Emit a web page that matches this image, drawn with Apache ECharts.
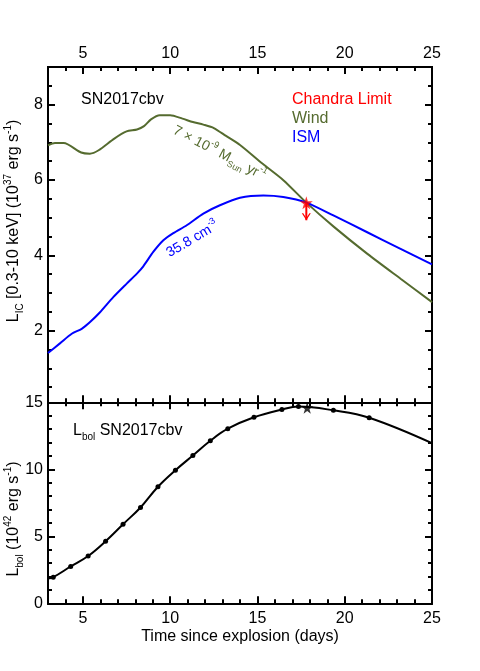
<!DOCTYPE html>
<html>
<head>
<meta charset="utf-8">
<script src="https://cdn.jsdelivr.net/npm/echarts@6/dist/echarts.min.js"></script>
<style>
  html, body { margin: 0; padding: 0; background: #fff; }
  #chart { width: 480px; height: 671px; }
</style>
</head>
<body>
<div id="chart"></div>
<script>
// 上图：逆康普顿 X 射线光度 (10^37 erg/s)
const windDays = [3.0, 3.4, 3.9, 4.9, 5.4, 5.9, 6.8, 7.5, 8.1, 8.5, 8.9, 9.4, 10.0, 10.7, 11.3, 11.9, 12.5, 13.2, 14.0, 15.3, 16.5, 17.8, 19.4, 21.3, 23.2, 25.0]
const windLum = [6.92, 6.98, 6.98, 6.73, 6.70, 6.79, 7.10, 7.29, 7.34, 7.43, 7.61, 7.72, 7.72, 7.63, 7.54, 7.47, 7.38, 7.17, 6.93, 6.43, 5.99, 5.40, 4.75, 4.04, 3.38, 2.76]
const ismDays = [3.0, 3.7, 4.36, 4.93, 5.41, 5.98, 6.74, 7.51, 8.08, 8.46, 9.03, 9.61, 10.18, 10.95, 11.9, 12.85, 14.0, 15.34, 16.48, 17.8, 19.35, 21.26, 23.17, 25.0]
const ismLum = [1.41, 1.67, 1.92, 2.05, 2.23, 2.49, 2.89, 3.25, 3.51, 3.71, 4.09, 4.40, 4.59, 4.80, 5.11, 5.33, 5.53, 5.59, 5.55, 5.40, 5.06, 4.62, 4.18, 3.76]
const chandraDay = 17.8
const chandraLimit = 5.40
const chandraArrowTip = 4.93

// 下图：热光度 (10^42 erg/s)
const lbolDays = [3.3, 4.3, 5.3, 6.3, 7.3, 8.3, 9.3, 10.3, 11.3, 12.3, 13.3, 14.8, 16.4, 17.35, 19.35, 21.4]
const lbolValues = [1.95, 2.75, 3.53, 4.63, 5.9, 7.15, 8.7, 9.93, 11.03, 12.13, 13.03, 13.88, 14.46, 14.68, 14.4, 13.85]
const lbolCurveStart = [3.0, 1.85]
const lbolCurveEnd = [25.0, 11.95]
const lbolPeak = [17.85, 14.6]

// 刻度
const dayTicks = [5, 10, 15, 20, 25]
const dayMinorTicks = [4, 6, 7, 8, 9, 11, 12, 13, 14, 16, 17, 18, 19, 21, 22, 23, 24]
const licTicks = [2, 4, 6, 8]
const licMinorTicks = [0.5, 1, 1.5, 2.5, 3, 3.5, 4.5, 5, 5.5, 6.5, 7, 7.5, 8.5]
const lbolTicks = [0, 5, 10, 15]
const lbolMinorTicks = [1, 2, 3, 4, 6, 7, 8, 9, 11, 12, 13, 14]

const FONT = "'Liberation Sans', Arial, sans-serif"
const WIND_COLOR = "#556B2F"
const STAR = "path://M50,0 L61,35 L98,35 L68,57 L79,91 L50,70 L21,91 L32,57 L2,35 L39,35 Z"
const ARROW_HEAD = "path://M0,0 L5,7 L10,0 L8.4,0 L5,4.6 L1.6,0 Z"
const MAJOR_LEN = 7
const MINOR_LEN = 4

const chart = echarts.init(document.getElementById("chart"))

// 上下两个面板；次刻度画在与之重叠的 grid 上
const topPanel = { left: 48, width: 384, top: 67, height: 335.3 }
const bottomPanel = { left: 48, width: 384, top: 402.3, height: 201 }
const dayRange = [3, 25]
const licRange = [0.1, 9]
const lbolRange = [0, 15]

function axisDef(gridIndex, position, range, ticks, len, showLabels) {
  return {
    type: "value",
    gridIndex: gridIndex,
    position: position,
    min: range[0],
    max: range[1],
    axisLine: { show: true, onZero: false, lineStyle: { color: "#000", width: 2 } },
    axisTick: { show: true, inside: true, length: len, customValues: ticks, lineStyle: { color: "#000", width: 2 } },
    axisLabel: {
      show: showLabels,
      customValues: ticks,
      color: "#000",
      fontSize: 16,
      fontFamily: FONT,
      margin: position === "top" ? 5 : position === "bottom" ? 7 : 5
    },
    splitLine: { show: false }
  }
}

const xAxes = [
  axisDef(0, "bottom", dayRange, dayTicks, MAJOR_LEN, false),
  axisDef(0, "top", dayRange, dayTicks, MAJOR_LEN, true),
  axisDef(1, "bottom", dayRange, dayTicks, MAJOR_LEN, true),
  axisDef(1, "top", dayRange, dayTicks, MAJOR_LEN, false),
  axisDef(2, "bottom", dayRange, dayMinorTicks, MINOR_LEN, false),
  axisDef(2, "top", dayRange, dayMinorTicks, MINOR_LEN, false),
  axisDef(3, "bottom", dayRange, dayMinorTicks, MINOR_LEN, false),
  axisDef(3, "top", dayRange, dayMinorTicks, MINOR_LEN, false)
]
xAxes[2].name = "Time since explosion (days)"
xAxes[2].nameLocation = "middle"
xAxes[2].nameGap = 25
xAxes[2].nameTextStyle = { color: "#000", fontSize: 16, fontFamily: FONT }

const yAxes = [
  axisDef(0, "left", licRange, licTicks, MAJOR_LEN, true),
  axisDef(0, "right", licRange, licTicks, MAJOR_LEN, false),
  axisDef(1, "left", lbolRange, lbolTicks, MAJOR_LEN, true),
  axisDef(1, "right", lbolRange, lbolTicks, MAJOR_LEN, false),
  axisDef(2, "left", licRange, licMinorTicks, MINOR_LEN, false),
  axisDef(2, "right", licRange, licMinorTicks, MINOR_LEN, false),
  axisDef(3, "left", lbolRange, lbolMinorTicks, MINOR_LEN, false),
  axisDef(3, "right", lbolRange, lbolMinorTicks, MINOR_LEN, false)
]

function zip(xs, ys) {
  return xs.map((x, i) => [x, ys[i]])
}

const lbolData = [{ value: lbolCurveStart, symbol: "none" }]
  .concat(zip(lbolDays, lbolValues))
  .concat([{ value: lbolCurveEnd, symbol: "none" }])

// 文字样式（上下标）
const richMain = (size, color) => ({
  n: { fontSize: size, fontFamily: FONT, fill: color, lineHeight: size + 6, verticalAlign: "middle" },
  sup: { fontSize: Math.round(size * 0.62), fontFamily: FONT, fill: color, lineHeight: Math.round(size * 0.62), verticalAlign: "top" },
  sub: { fontSize: Math.round(size * 0.62), fontFamily: FONT, fill: color, lineHeight: Math.round(size * 0.62), verticalAlign: "bottom" }
})

const graphics = [
  { type: "text", x: 81, y: 99.5, style: { text: "SN2017cbv", fill: "#000", fontSize: 16, fontFamily: FONT, verticalAlign: "middle" } },
  { type: "text", x: 292, y: 99.5, style: { text: "Chandra Limit", fill: "#ff0000", fontSize: 16, fontFamily: FONT, verticalAlign: "middle" } },
  { type: "text", x: 292, y: 118.5, style: { text: "Wind", fill: WIND_COLOR, fontSize: 16, fontFamily: FONT, verticalAlign: "middle" } },
  { type: "text", x: 292, y: 137.5, style: { text: "ISM", fill: "#0000ff", fontSize: 16, fontFamily: FONT, verticalAlign: "middle" } },
  {
    type: "text", x: 73, y: 431,
    style: { text: "{n|L}{sub|bol}{n| SN2017cbv}", rich: richMain(16, "#000"), verticalAlign: "middle" }
  },
  {
    type: "text", x: 174, y: 129.5, rotation: -0.48,
    style: { text: "{n|7 × 10}{sup|-9}{n| M}{sub|Sun}{n| yr}{sup|-1}", rich: richMain(14, WIND_COLOR), verticalAlign: "middle" }
  },
  {
    type: "text", x: 167.5, y: 254, rotation: 0.53,
    style: { text: "{n|35.8 cm}{sup|-3}", rich: richMain(14, "#0000ff"), verticalAlign: "middle" }
  },
  {
    type: "text", x: 14, y: 221, rotation: Math.PI / 2,
    style: { text: "{n|L}{sub|IC}{n| [0.3-10 keV] (10}{sup|37}{n| erg s}{sup|-1}{n|)}", rich: richMain(16, "#000"), align: "center", verticalAlign: "middle" }
  },
  {
    type: "text", x: 14, y: 519, rotation: Math.PI / 2,
    style: { text: "{n|L}{sub|bol}{n| (10}{sup|42}{n| erg s}{sup|-1}{n|)}", rich: richMain(16, "#000"), align: "center", verticalAlign: "middle" }
  }
]

const option = {
  animation: false,
  grid: [topPanel, bottomPanel, topPanel, bottomPanel],
  xAxis: xAxes,
  yAxis: yAxes,
  graphic: graphics,
  series: [
    {
      name: "Wind",
      type: "line",
      xAxisIndex: 0,
      yAxisIndex: 0,
      data: zip(windDays, windLum),
      smooth: 0.25,
      showSymbol: false,
      lineStyle: { color: WIND_COLOR, width: 2 }
    },
    {
      name: "ISM",
      type: "line",
      xAxisIndex: 0,
      yAxisIndex: 0,
      data: zip(ismDays, ismLum),
      smooth: 0.25,
      showSymbol: false,
      lineStyle: { color: "#0000ff", width: 2 }
    },
    {
      name: "Chandra Limit",
      type: "line",
      xAxisIndex: 0,
      yAxisIndex: 0,
      data: [
        { value: [chandraDay, chandraLimit], symbol: "none" },
        { value: [chandraDay, chandraArrowTip], symbol: ARROW_HEAD, symbolSize: [9, 7], symbolOffset: [0, -3.5] }
      ],
      itemStyle: { color: "#ff0000" },
      lineStyle: { color: "#ff0000", width: 2 },
      z: 5
    },
    {
      name: "Chandra star",
      type: "scatter",
      xAxisIndex: 0,
      yAxisIndex: 0,
      data: [[chandraDay, chandraLimit]],
      symbol: STAR,
      symbolSize: 13,
      itemStyle: { color: "#ff0000" },
      z: 6
    },
    {
      name: "Lbol",
      type: "line",
      xAxisIndex: 2,
      yAxisIndex: 2,
      data: lbolData,
      smooth: 0.4,
      symbol: "circle",
      symbolSize: 5,
      itemStyle: { color: "#000" },
      lineStyle: { color: "#000", width: 2 }
    },
    {
      name: "Lbol peak",
      type: "scatter",
      xAxisIndex: 2,
      yAxisIndex: 2,
      data: [lbolPeak],
      symbol: STAR,
      symbolSize: 12,
      itemStyle: { color: "#000" },
      z: 6
    }
  ]
}

chart.setOption(option)
</script>
</body>
</html>
